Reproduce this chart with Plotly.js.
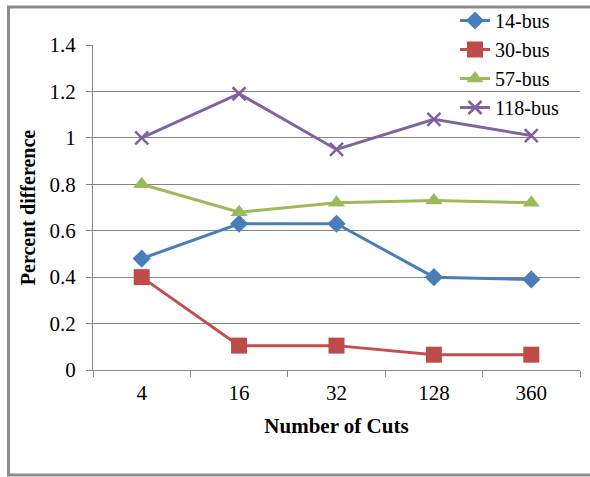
<!DOCTYPE html>
<html>
<head>
<meta charset="utf-8">
<script src="https://cdn.plot.ly/plotly-3.0.1.min.js"></script>
<style>
  html, body { margin: 0; padding: 0; background: #fff; }
  #chart { width: 590px; height: 477px; }
</style>
</head>
<body>
<div id="chart"></div>
<script>
// Number of cuts (categorical x axis)
const cuts = ['4', '16', '32', '128', '360'];

// Percent difference per test system
const bus14 = [0.48, 0.63, 0.63, 0.40, 0.39];
const bus30 = [0.40, 0.105, 0.105, 0.066, 0.066];
const bus57 = [0.80, 0.68, 0.72, 0.73, 0.72];
const bus118 = [1.00, 1.19, 0.95, 1.08, 1.01];

const seriesNames = ['14-bus', '30-bus', '57-bus', '118-bus'];
const yTicks = [0, 0.2, 0.4, 0.6, 0.8, 1, 1.2, 1.4];
const yTickText = ['0', '0.2', '0.4', '0.6', '0.8', '1', '1.2', '1.4'];

const serif = '"Liberation Serif", "Times New Roman", serif';

function series(name, y, color, symbol, size, lineColor) {
  return {
    type: 'scatter', mode: 'lines+markers', name: name,
    x: cuts, y: y,
    line: { color: lineColor || color, width: 3 },
    marker: { color: color, symbol: symbol, size: size,
              line: { color: color, width: symbol === 'x-thin' ? 2.5 : 0 } }
  };
}

const data = [
  series(seriesNames[0], bus14, '#4A7EBB', 'diamond', 14),
  series(seriesNames[1], bus30, '#BE4B48', 'square', 16, '#C0504D'),
  series(seriesNames[2], bus57, '#9BBB59', 'triangle-up', 15),
  series(seriesNames[3], bus118, '#7D60A0', 'x-thin', 13, '#8064A2')
];

// outer chart frame (left, top and bottom edges)
const fx0 = (8.5 - 93) / 487, fx1 = 1.1;
const fy0 = (370 - 475) / 325, fy1 = (370 - 7) / 325;

const layout = {
  width: 590, height: 477,
  margin: { l: 93, r: 10, t: 45, b: 107, autoexpand: false },
  paper_bgcolor: '#fff', plot_bgcolor: '#fff',
  font: { family: serif, color: '#000', size: 21 },
  showlegend: true,
  legend: {
    xref: 'container', yref: 'container',
    x: 455 / 590, y: 1 - 1 / 477, xanchor: 'left', yanchor: 'top',
    bgcolor: 'rgba(0,0,0,0)', font: { family: serif, size: 20, color: '#000' },
    tracegroupgap: 0
  },
  xaxis: {
    type: 'category', range: [-0.5, 4.5],
    showgrid: false, showline: true, linecolor: '#868686', linewidth: 1,
    ticks: 'outside', tickson: 'boundaries', ticklen: 6, tickcolor: '#868686',
    ticklabelstandoff: 4,
    tickfont: { family: serif, size: 21, color: '#000' },
    title: { text: '<b>Number of Cuts</b>', font: { family: serif, size: 21, color: '#000' }, standoff: 14 },
    zeroline: false, fixedrange: true
  },
  yaxis: {
    range: [0, 1.4], tickvals: yTicks, ticktext: yTickText,
    showgrid: true, gridcolor: '#868686', gridwidth: 1,
    showline: true, linecolor: '#868686', linewidth: 1,
    ticks: 'outside', ticklen: 6, tickcolor: '#868686',
    ticklabelstandoff: 6,
    tickfont: { family: serif, size: 21, color: '#000' },
    title: { text: '<b>Percent difference</b>', font: { family: serif, size: 20, color: '#000' }, standoff: 8 },
    zeroline: false, fixedrange: true
  },
  shapes: [{
    type: 'path', xref: 'paper', yref: 'paper',
    path: `M ${fx1} ${fy1} L ${fx0} ${fy1} L ${fx0} ${fy0} L ${fx1} ${fy0}`,
    line: { color: '#8C8C8C', width: 3 }, layer: 'above'
  }]
};

Plotly.newPlot('chart', data, layout, { displayModeBar: false, staticPlot: true });
</script>
</body>
</html>
